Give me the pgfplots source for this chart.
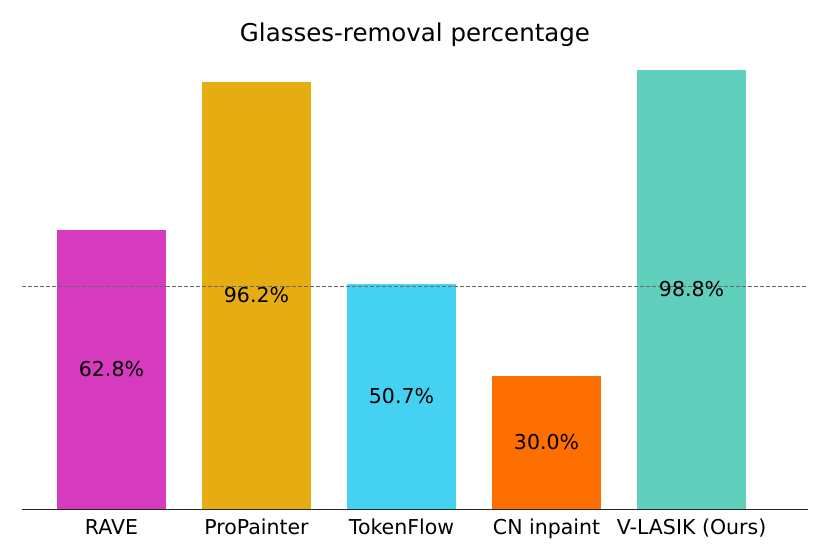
\documentclass[border=0pt]{standalone}
\usepackage{pgfplots}
\pgfplotsset{compat=1.18}
\usepackage{fontspec}
\setmainfont{DejaVu Sans}
\definecolor{cRave}{HTML}{D63ABE}
\definecolor{cPro}{HTML}{E6AD12}
\definecolor{cTok}{HTML}{45D1F2}
\definecolor{cCN}{HTML}{FF6F00}
\definecolor{cVL}{HTML}{60CFBB}
\begin{document}
\begin{tikzpicture}
\begin{axis}[
  scale only axis, width=786pt, height=461pt,
  xmin=-0.617, xmax=4.803, ymin=0, ymax=103.74,
  axis x line*=bottom, axis y line=none,
  x axis line style={-, draw=black!85, line width=0.9pt},
  xtick={0,1,2,3,4},
  xticklabels={RAVE,ProPainter,TokenFlow,CN inpaint,V-LASIK (Ours)},
  major tick length=0pt,
  /pgf/number format/assume math mode=true,
  xticklabel style={font=\fontsize{20.5}{24}\selectfont, text height=1.6ex, text depth=0.4ex, yshift=-13.5pt},
  ybar, bar width=0.75, bar shift=0pt,
  title={Glasses-removal percentage},
  title style={font=\fontsize{24.5}{29}\selectfont, yshift=-8.5pt},
  clip=false,
]
\addplot[fill=cRave, draw=none] coordinates {(0,62.8)};
\addplot[fill=cPro, draw=none] coordinates {(1,96.2)};
\addplot[fill=cTok, draw=none] coordinates {(2,50.7)};
\addplot[fill=cCN, draw=none] coordinates {(3,30.0)};
\addplot[fill=cVL, draw=none] coordinates {(4,98.8)};
\addplot[sharp plot, draw=black!60, line width=1pt, dash pattern=on 4pt off 2pt, forget plot] coordinates {(-0.617,50) (4.803,50)};
\addplot[only marks, mark=none, draw=none, point meta=explicit,
  nodes near coords={\pgfmathprintnumber[fixed,fixed zerofill,precision=1]{\pgfplotspointmeta}\%},
  every node near coord/.style={anchor=center, font=\fontsize{20.5}{24}\selectfont, text=black}]
  table[x=x, y expr=\thisrow{v}/2, meta=v] {
x v
0 62.8
1 96.2
2 50.7
3 30.0
4 98.8
};
\coordinate (sw) at (rel axis cs:0,0);
\end{axis}
\pgfresetboundingbox
\path[use as bounding box] ([shift={(-22pt,-45pt)}]sw) rectangle ([shift={(808pt,509pt)}]sw);
\end{tikzpicture}
\end{document}
